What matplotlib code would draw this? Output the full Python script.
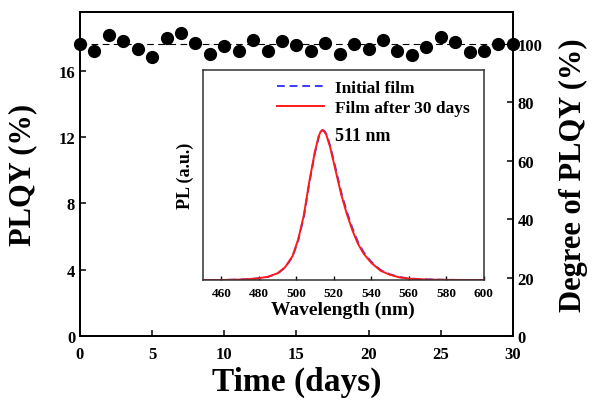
import numpy as np
import matplotlib
matplotlib.use("Agg")
import matplotlib.pyplot as plt

# main plot: PLQY stability over 30 days
days = list(range(31))
degree = [100.0, 97.4, 103.1, 100.9, 98.1, 95.4, 101.9, 103.8, 100.2, 96.6,
          99.3, 97.7, 101.4, 97.7, 101.1, 99.7, 97.4, 100.3, 96.6, 100.0,
          98.1, 101.4, 97.7, 96.2, 98.9, 102.2, 100.8, 97.1, 97.7, 100.0,
          100.0]
ref_level = 100

plqy_ticks = [0, 4, 8, 12, 16]
degree_ticks = [0, 20, 40, 60, 80, 100]
day_ticks = [0, 5, 10, 15, 20, 25, 30]

# inset: PL spectra
wavelength = [450, 460, 470, 475, 480, 485, 490, 494, 498, 501, 504, 507,
              510, 512, 513, 514, 515, 516, 518, 521, 524, 527, 530, 533,
              536, 540, 545, 550, 555, 560, 570, 580, 590, 600]
pl_initial = [0, 0, 0.003, 0.006, 0.011, 0.021, 0.043, 0.082, 0.155, 0.262,
              0.42, 0.65, 0.85, 0.955, 0.985, 1.0, 0.995, 0.975, 0.90, 0.745,
              0.585, 0.455, 0.345, 0.252, 0.185, 0.122, 0.067, 0.038, 0.02,
              0.01, 0.004, 0.001, 0, 0]
pl_30days = [0, 0, 0.003, 0.006, 0.012, 0.022, 0.045, 0.085, 0.16, 0.27,
             0.43, 0.66, 0.86, 0.96, 0.99, 1.0, 0.99, 0.97, 0.89, 0.73,
             0.57, 0.44, 0.33, 0.24, 0.175, 0.115, 0.062, 0.035, 0.018,
             0.009, 0.003, 0.001, 0, 0]
wl_ticks = [460, 480, 500, 520, 540, 560, 580, 600]

plt.rcParams['font.family'] = ['Liberation Serif', 'DejaVu Serif']
plt.rcParams['font.weight'] = 'bold'

fig = plt.figure(figsize=(5.97, 4.02), dpi=100)
ax = fig.add_axes([0.134, 0.1617, 0.725, 0.8067])
ax2 = ax.twinx()

ax.set_xlim(0, 30)
ax.set_ylim(0, 19.56)
ax2.set_ylim(0, 111)

ax2.axhline(ref_level, color='k', ls=(0, (6, 4)), lw=0.8)
ax2.plot(days, degree, 'o', color='k', ms=8.5, clip_on=False, zorder=5)

ax.set_xticks(day_ticks)
ax.set_yticks(plqy_ticks)
ax2.set_yticks(degree_ticks)
for a in (ax, ax2):
    a.tick_params(direction='in', length=4, width=1.1, labelsize=12)
    for s in a.spines.values():
        s.set_linewidth(1.3)
ax.tick_params(axis='x', pad=7)
for lab in ax.get_xticklabels() + ax.get_yticklabels() + ax2.get_yticklabels():
    lab.set_fontweight('bold')

ax.set_xlabel('Time (days)', fontsize=24, fontweight='bold', labelpad=3)
ax.set_ylabel('PLQY (%)', fontsize=22, fontweight='bold', labelpad=15)
ax2.set_ylabel('Degree of PLQY (%)', fontsize=22, fontweight='bold', labelpad=12)

# inset
ins = fig.add_axes([0.3395, 0.301, 0.4704, 0.522])
ins.plot(wavelength, pl_initial, ls=(0, (4, 2.5)), color='#3b3bff', lw=1.4,
         label='Initial film')
ins.plot(wavelength, pl_30days, color='#ff1a1a', lw=1.4,
         label='Film after 30 days')
ins.set_xlim(450, 600)
ins.set_ylim(0, 1.4)
ins.set_xticks(wl_ticks)
ins.set_yticks([])
ins.tick_params(direction='in', length=3, width=1, labelsize=9.5, pad=5)
for lab in ins.get_xticklabels():
    lab.set_fontweight('bold')
for s in ins.spines.values():
    s.set_linewidth(1.1)
    s.set_color('#333333')
ins.set_xlabel('Wavelength (nm)', fontsize=14, fontweight='bold', labelpad=1)
ins.set_ylabel('PL (a.u.)', fontsize=13, fontweight='bold', labelpad=6)
ins.text(520.5, 0.965, '511 nm', fontsize=13, fontweight='bold',
         va='center', ha='left')
ins.legend(loc='upper left', bbox_to_anchor=(0.21, 1.03), frameon=False,
           handlelength=2.7, handletextpad=0.6, labelspacing=0.25,
           prop={'size': 12.5, 'weight': 'bold'})

fig.savefig('out.png', dpi=100)
